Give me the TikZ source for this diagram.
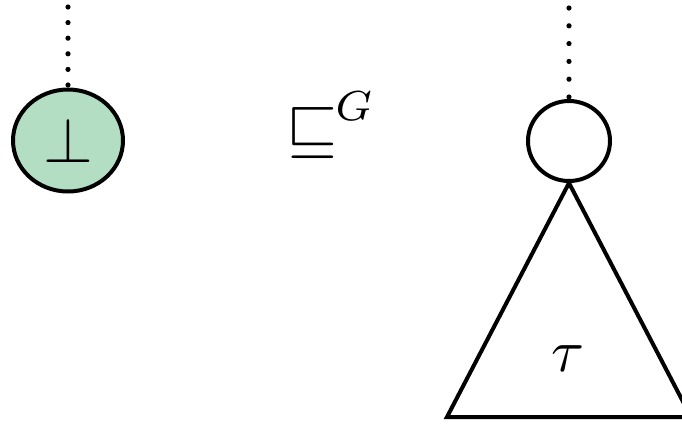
\documentclass[tikz,border=0pt]{standalone}
\usepackage{amssymb}
\usetikzlibrary{shapes.geometric}
\definecolor{nodegreen}{RGB}{179,222,196}
\begin{document}
\begin{tikzpicture}[x=0.5pt,y=-0.5pt,
  treenode/.style={ellipse,draw=black,line width=2pt,inner sep=0pt},
  dotline/.style={line width=2.6pt,line cap=round,dash pattern=on 0pt off #1},
  edge/.style={line width=2pt,line join=miter}]
\useasboundingbox (0,0) rectangle (682,424);
\clip (0,0) rectangle (682,424);
\node[treenode,fill=nodegreen,minimum width=55pt,minimum height=51pt] (bot) at (68,140.5) {};
\node[scale=3.2] (botlabel) at (bot.center) {$\bot$};
\coordinate (bottop) at (68,7);
\draw[dotline=7.8pt] (bottop) -- (68,85);
\node[treenode,minimum width=41pt,minimum height=40pt] (root) at (569,141) {};
\coordinate (roottop) at (569,8);
\draw[dotline=8.9pt] (roottop) -- (569,97);
\node[scale=3.3,inner sep=0pt] (rel) at (311.7,132.5) {$\sqsubseteq$};
\node[scale=3.0,anchor=base west,inner sep=0pt] (relG) at (334,120) {$\scriptstyle G$};
\coordinate (bl) at (447,417);
\coordinate (br) at (691,417);
\draw[edge] (root.south) -- (bl) -- (br) -- cycle;
\node[scale=3.0,inner sep=0pt] (tau) at (568,358.5) {$\tau$};
\end{tikzpicture}
\end{document}
